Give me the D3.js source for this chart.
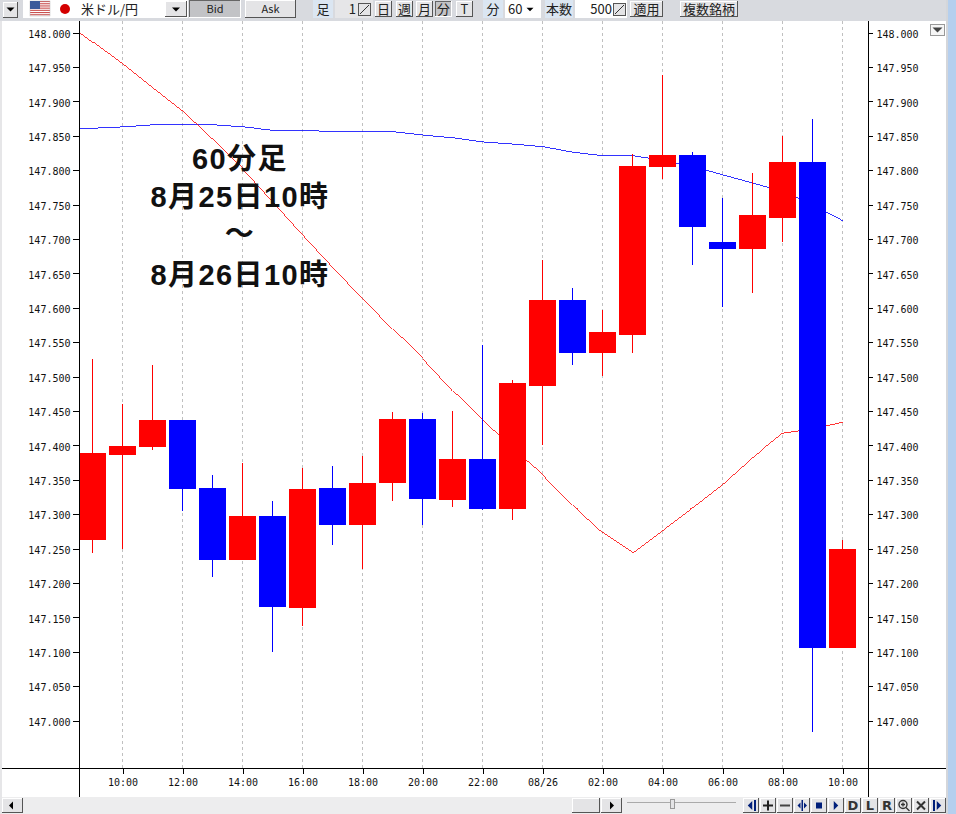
<!DOCTYPE html>
<html lang="ja">
<head>
<meta charset="utf-8">
<title>米ドル/円 60分足</title>
<script src="https://cdnjs.cloudflare.com/ajax/libs/d3/7.8.5/d3.min.js"></script>
<style>
    html, body { margin: 0; padding: 0; background: #fff; }
    svg { display: block; }
    .ui { font-family: "Noto Sans CJK JP", "Liberation Sans", sans-serif; font-size: 13px; fill: #222; }
    .axis-label { font-family: "DejaVu Sans Mono", "Liberation Mono", monospace; font-size: 10px; fill: #111; }
</style>
</head>
<body>
<div id="chart"></div>
<script>
// hourly candles, 08/25 09:00 to 08/26 10:00
const candleTimes = [
    "08-25 09", "08-25 10", "08-25 11", "08-25 12", "08-25 13", "08-25 14", "08-25 15", "08-25 16", "08-25 17",
    "08-25 18", "08-25 19", "08-25 20", "08-25 21", "08-25 22", "08-25 23", "08-26 00", "08-26 01", "08-26 02",
    "08-26 03", "08-26 04", "08-26 05", "08-26 06", "08-26 07", "08-26 08", "08-26 09", "08-26 10"
];
const bodyTop = [
    147.389, 147.399, 147.437, 147.437, 147.338, 147.298, 147.298, 147.336, 147.338,
    147.346, 147.439, 147.438, 147.380, 147.380, 147.490, 147.611, 147.611, 147.565,
    147.806, 147.822, 147.822, 147.695, 147.735, 147.812, 147.812, 147.250
];
const bodyBottom = [
    147.262, 147.386, 147.397, 147.336, 147.233, 147.233, 147.165, 147.163, 147.285,
    147.285, 147.345, 147.322, 147.320, 147.307, 147.307, 147.487, 147.535, 147.535,
    147.560, 147.805, 147.717, 147.685, 147.685, 147.730, 147.106, 147.105
];
const wickHigh = [
    147.525, 147.460, 147.517, 147.437, 147.357, 147.375, 147.319, 147.367, 147.370,
    147.384, 147.448, 147.447, 147.450, 147.546, 147.495, 147.669, 147.629, 147.597,
    147.823, 147.938, 147.826, 147.759, 147.796, 147.850, 147.874, 147.262
];
const wickLow = [
    147.244, 147.249, 147.393, 147.304, 147.208, 147.233, 147.099, 147.138, 147.255,
    147.221, 147.319, 147.284, 147.310, 147.306, 147.291, 147.400, 147.517, 147.501,
    147.534, 147.787, 147.662, 147.601, 147.621, 147.695, 146.984, 147.105
];
// 1 = red candle, 0 = blue candle
const candleIsRed = [1, 1, 1, 0, 0, 1, 0, 1, 0, 1, 1, 0, 1, 0, 1, 1, 0, 1, 1, 1, 0, 0, 1, 1, 0, 1];

// moving averages start one hour earlier so they run off the left axis
const lineTimes = ["08-25 08"].concat(candleTimes);
const redLine = [
    148.018, 147.986, 147.954, 147.919, 147.885, 147.844, 147.802, 147.754, 147.706, 147.659,
    147.613, 147.569, 147.526, 147.479, 147.436, 147.395, 147.357, 147.313, 147.273, 147.244,
    147.277, 147.310, 147.344, 147.383, 147.418, 147.424, 147.434
];
const blueLine = [
    147.861, 147.861, 147.863, 147.866, 147.866, 147.866, 147.863, 147.858, 147.858, 147.856,
    147.856, 147.856, 147.851, 147.847, 147.841, 147.838, 147.834, 147.826, 147.821, 147.821,
    147.814, 147.805, 147.793, 147.781, 147.770, 147.749, 147.726
];

const priceTicks = [
    147.000, 147.050, 147.100, 147.150, 147.200, 147.250, 147.300, 147.350, 147.400, 147.450, 147.500,
    147.550, 147.600, 147.650, 147.700, 147.750, 147.800, 147.850, 147.900, 147.950, 148.000
];
const timeTicks = [
    "08-25 10", "08-25 12", "08-25 14", "08-25 16", "08-25 18", "08-25 20", "08-25 22",
    "08-26 00", "08-26 02", "08-26 04", "08-26 06", "08-26 08", "08-26 10"
];
const noteLines = ["60分足", "8月25日10時", "〜", "8月26日10時"];

const parseTime = d3.timeParse("%Y-%m-%d %H");
const toDate = s => parseTime("2023-" + s);

const svg = d3.select("#chart")
    .append("svg")
    .attr("width", 956)
    .attr("height", 814);

const plot = { left: 79.5, right: 868.5, top: 21, bottom: 768.5 };

const x = d3.scaleTime()
    .domain([toDate("08-25 09"), toDate("08-26 10")])
    .range([92.5, 842.5]);

const y = d3.scaleLinear()
    .domain([147, 148])
    .range([720.6, 32.6]);

svg.append("defs").append("clipPath")
    .attr("id", "plot-clip")
    .append("rect")
    .attr("x", plot.left)
    .attr("y", plot.top)
    .attr("width", plot.right - plot.left)
    .attr("height", plot.bottom - plot.top);

// window frame
svg.append("rect").attr("width", 956).attr("height", 814).attr("fill", "#fff");
svg.append("rect").attr("width", 2).attr("height", 814).attr("fill", "#e6e6e8");
svg.append("rect").attr("x", 946).attr("width", 2).attr("height", 814).attr("fill", "#d4d6da");
svg.append("rect").attr("x", 948).attr("width", 8).attr("height", 814).attr("fill", "#b5cfee");

// vertical grid
svg.append("g")
    .selectAll("line")
    .data(timeTicks.map(toDate))
    .enter()
    .append("line")
    .attr("x1", d => x(d))
    .attr("x2", d => x(d))
    .attr("y1", plot.top)
    .attr("y2", plot.bottom)
    .attr("stroke", "#c0c0c0")
    .attr("stroke-dasharray", "3,3")
    .attr("shape-rendering", "crispEdges");

// moving averages
const lineGen = d3.line()
    .x((d, i) => x(toDate(lineTimes[i])))
    .y(d => y(d));

const plotArea = svg.append("g").attr("clip-path", "url(#plot-clip)");

plotArea.append("path")
    .datum(blueLine)
    .attr("d", lineGen)
    .attr("fill", "none")
    .attr("stroke", "#0000ff")
    .attr("stroke-width", 0.8)
    .attr("shape-rendering", "crispEdges");

plotArea.append("path")
    .datum(redLine)
    .attr("d", lineGen)
    .attr("fill", "none")
    .attr("stroke", "#ff0000")
    .attr("stroke-width", 0.8)
    .attr("shape-rendering", "crispEdges");

// candles
const candleColor = i => candleIsRed[i] ? "#ff0000" : "#0000ff";
const candles = plotArea.append("g")
    .selectAll("g")
    .data(candleTimes)
    .enter()
    .append("g")
    .attr("shape-rendering", "crispEdges");

candles.append("line")
    .attr("x1", d => x(toDate(d)))
    .attr("x2", d => x(toDate(d)))
    .attr("y1", (d, i) => Math.round(y(wickHigh[i])))
    .attr("y2", (d, i) => Math.round(y(wickLow[i])))
    .attr("stroke", (d, i) => candleColor(i));

candles.append("rect")
    .attr("x", d => x(toDate(d)) - 13.5)
    .attr("y", (d, i) => Math.round(y(bodyTop[i])))
    .attr("width", 27)
    .attr("height", (d, i) => Math.round(y(bodyBottom[i])) - Math.round(y(bodyTop[i])))
    .attr("fill", (d, i) => candleColor(i));

// axes
const yAxisLeft = d3.axisLeft(y).tickValues(priceTicks).tickFormat(d3.format(".3f")).tickSize(7).tickPadding(2);
const yAxisRight = d3.axisRight(y).tickValues(priceTicks).tickFormat(d3.format(".3f")).tickSize(4).tickPadding(4);
const xAxis = d3.axisBottom(x)
    .tickValues(timeTicks.map(toDate))
    .tickFormat(d => d.getHours() === 0 ? d3.timeFormat("%m/%d")(d) : d3.timeFormat("%H:%M")(d))
    .tickSize(5)
    .tickPadding(5);

const axisGroups = [
    svg.append("g").attr("transform", `translate(${plot.left},0)`).call(yAxisLeft),
    svg.append("g").attr("transform", `translate(${plot.right},0)`).call(yAxisRight),
    svg.append("g").attr("transform", `translate(0,${plot.bottom})`).call(xAxis)
];
axisGroups.forEach(g => {
    g.select(".domain").remove();
    g.attr("font-family", null).attr("font-size", null);
    g.selectAll("text").attr("class", "axis-label");
    g.selectAll("line").attr("stroke", "#000").attr("shape-rendering", "crispEdges");
});
// labels sit a little under their ticks in the reference
axisGroups[0].selectAll("text").attr("y", 1.5);
axisGroups[1].selectAll("text").attr("y", 1.5);

// axis frame lines
[[plot.left, plot.top, plot.left, 797], [plot.right, plot.top, plot.right, 797], [2, plot.bottom, 946, plot.bottom]]
    .forEach(([x1, y1, x2, y2]) => {
        svg.append("line")
            .attr("x1", x1).attr("y1", y1).attr("x2", x2).attr("y2", y2)
            .attr("stroke", "#000")
            .attr("shape-rendering", "crispEdges");
    });

// period note over the chart
svg.append("g")
    .selectAll("text")
    .data(noteLines)
    .enter()
    .append("text")
    .attr("x", 240)
    .attr("y", (d, i) => [169, 207, 244, 285][i])
    .attr("text-anchor", "middle")
    .attr("font-family", "'Liberation Sans', 'Noto Sans CJK JP', sans-serif")
    .attr("font-weight", 700)
    .attr("font-size", 29)
    .attr("letter-spacing", 1.4)
    .attr("fill", "#111")
    .text(d => d);

// toolbar
const toolbar = svg.append("g");
toolbar.append("rect").attr("width", 946).attr("height", 21).attr("fill", "#d8dadf");

function button(parent, bx, by, w, h, label, pressed, opts = {}) {
    const g = parent.append("g").attr("shape-rendering", "crispEdges");
    g.append("rect").attr("x", bx).attr("y", by).attr("width", w).attr("height", h)
        .attr("fill", pressed ? "#c2c3c6" : "#e4e4e6");
    // lit and shaded edges
    g.append("path")
        .attr("d", `M${bx + 0.5},${by + h}V${by + 0.5}H${bx + w}`)
        .attr("fill", "none").attr("stroke", pressed ? "#666" : "#fff");
    g.append("path")
        .attr("d", `M${bx + w - 0.5},${by}V${by + h - 0.5}H${bx}`)
        .attr("fill", "none").attr("stroke", pressed ? "#fff" : "#555");
    if (label) {
        parent.append("text")
            .attr("class", "ui")
            .attr("x", bx + w / 2)
            .attr("y", by + h / 2)
            .attr("dy", "0.36em")
            .attr("text-anchor", "middle")
            .style("font-size", opts.size ? opts.size + "px" : null)
            .text(label);
    }
}

function field(fx, w, fill) {
    toolbar.append("rect").attr("x", fx).attr("y", 0).attr("width", w).attr("height", 18).attr("fill", fill);
}

function uiText(tx, label, anchor = "start") {
    toolbar.append("text")
        .attr("class", "ui")
        .attr("x", tx)
        .attr("y", 9)
        .attr("dy", "0.36em")
        .attr("text-anchor", anchor)
        .text(label);
}

function downArrow(parent, cx, cy, size, fill = "#000") {
    parent.append("path")
        .attr("d", `M${cx - size},${cy - size / 2}h${size * 2}l${-size},${size}z`)
        .attr("fill", fill);
}

function spinner(sx) {
    toolbar.append("rect").attr("x", sx + 0.5).attr("y", 3.5).attr("width", 12).attr("height", 12)
        .attr("fill", "#e4e4e6").attr("stroke", "#555").attr("shape-rendering", "crispEdges");
    toolbar.append("path").attr("d", `M${sx + 2},14L${sx + 11},5`).attr("stroke", "#333").attr("fill", "none");
}

button(toolbar, 3, 2, 15, 16, "", false);
downArrow(toolbar, 10.5, 9.5, 4);

field(23, 165, "#ffffff");

// US flag
const flagStripes = d3.range(7);
toolbar.selectAll(".flag-stripe")
    .data(flagStripes)
    .enter()
    .append("rect")
    .attr("class", "flag-stripe")
    .attr("x", 30).attr("y", d => 1 + d * 2.2)
    .attr("width", 20).attr("height", 1.1)
    .attr("fill", "#c9504f");
toolbar.append("rect").attr("x", 30).attr("y", 1).attr("width", 20).attr("height", 15)
    .attr("fill", "none").attr("stroke", "#bbb").attr("stroke-width", 0.5);
toolbar.append("rect").attr("x", 30).attr("y", 1).attr("width", 10).attr("height", 8).attr("fill", "#3c5a9a");
toolbar.append("circle").attr("cx", 65).attr("cy", 9).attr("r", 5).attr("fill", "#d40000");

uiText(81, "米ドル/円");
button(toolbar, 165, 1, 22, 16, "", false);
downArrow(toolbar, 176, 9.5, 4);

button(toolbar, 189, 0, 52, 18, "Bid", true, { size: 11 });
button(toolbar, 245, 0, 51, 18, "Ask", false, { size: 11 });

field(313, 20, "#dbe6f2");
uiText(323, "足", "middle");
field(335, 38, "#e6e6e8");
uiText(356, "1", "end");
spinner(358);

button(toolbar, 375, 1, 17, 16, "日", false);
button(toolbar, 396, 1, 17, 16, "週", false);
button(toolbar, 416, 1, 17, 16, "月", false);
button(toolbar, 435, 1, 17, 16, "分", true);
button(toolbar, 456, 1, 17, 16, "T", false);

field(483, 20, "#dbe6f2");
uiText(493, "分", "middle");
field(505, 36, "#ffffff");
uiText(508, "60");
downArrow(toolbar, 530, 9.5, 3.5);
field(545, 28, "#dbe6f2");
uiText(559, "本数", "middle");
field(575, 52, "#ffffff");
uiText(612, "500", "end");
spinner(613);
button(toolbar, 630, 1, 33, 16, "適用", false);
button(toolbar, 680, 1, 58, 16, "複数銘柄", false);

// small menu button at the top right of the plot
svg.append("rect").attr("x", 930.5).attr("y", 24.5).attr("width", 14).attr("height", 11)
    .attr("fill", "#f6f6f6").attr("stroke", "#999").attr("shape-rendering", "crispEdges");
downArrow(svg, 937.5, 30, 5, "#444");

// bottom bar
const footer = svg.append("g");
footer.append("rect").attr("x", 2).attr("y", 797).attr("width", 944).attr("height", 17).attr("fill", "#ededee");

function leftArrow(cx, cy, size, fill = "#000") {
    footer.append("path").attr("d", `M${cx + size / 2},${cy - size}v${size * 2}l${-size},${-size}z`).attr("fill", fill);
}
function rightArrow(cx, cy, size, fill = "#000") {
    footer.append("path").attr("d", `M${cx - size / 2},${cy - size}v${size * 2}l${size},${-size}z`).attr("fill", fill);
}

button(footer, 2, 798, 21, 15, "", false);
leftArrow(11, 805.5, 4);
button(footer, 572, 798, 28, 15, "", false);
button(footer, 601, 798, 21, 15, "", false);
rightArrow(612, 805.5, 4);

// zoom slider
footer.append("line").attr("x1", 627).attr("x2", 736).attr("y1", 802.5).attr("y2", 802.5)
    .attr("stroke", "#aaa").attr("shape-rendering", "crispEdges");
footer.append("rect").attr("x", 670).attr("y", 799).attr("width", 4).attr("height", 9)
    .attr("fill", "#e4e4e6").attr("stroke", "#999").attr("shape-rendering", "crispEdges");

// navigation buttons: text ones use a letter, the others are small drawn icons
const navBlue = "#001f7a";
const navIcons = [
    cx => { leftArrow(cx - 1, 805.5, 4.5, navBlue); footer.append("rect").attr("x", cx + 3).attr("y", 800).attr("width", 2).attr("height", 11).attr("fill", navBlue); },
    cx => { footer.append("path").attr("d", `M${cx - 5},805.5h10M${cx},800.5v10`).attr("stroke", "#222").attr("stroke-width", 2); },
    cx => { footer.append("path").attr("d", `M${cx - 5},805.5h10`).attr("stroke", "#444").attr("stroke-width", 2); },
    cx => {
        footer.append("rect").attr("x", cx - 0.5).attr("y", 800).attr("width", 1.5).attr("height", 11).attr("fill", navBlue);
        leftArrow(cx - 3, 805.5, 3, navBlue);
        rightArrow(cx + 3.5, 805.5, 3, navBlue);
    },
    cx => { footer.append("rect").attr("x", cx - 3).attr("y", 802.5).attr("width", 6).attr("height", 6).attr("fill", navBlue); },
    cx => { rightArrow(cx, 805.5, 4.5, navBlue); },
    null, null, null,
    cx => {
        footer.append("circle").attr("cx", cx - 1).attr("cy", 804.5).attr("r", 4).attr("fill", "none").attr("stroke", "#333").attr("stroke-width", 1.4);
        footer.append("path").attr("d", `M${cx + 2},807.5l3.5,3.5M${cx - 3},804.5h4M${cx - 1},802.5v4`).attr("stroke", "#333").attr("stroke-width", 1.3);
    },
    cx => { footer.append("path").attr("d", `M${cx - 4},801.5l8,8M${cx + 4},801.5l-8,8`).attr("stroke", "#333").attr("stroke-width", 2); },
    cx => { footer.append("rect").attr("x", cx - 5).attr("y", 800).attr("width", 2).attr("height", 11).attr("fill", navBlue); rightArrow(cx + 1, 805.5, 4.5, navBlue); }
];
const navLetters = { 6: "D", 7: "L", 8: "R" };

navIcons.forEach((icon, i) => {
    const bx = 743 + i * 17;
    button(footer, bx, 798, 16, 15, "", false);
    if (icon) icon(bx + 8);
    else {
        footer.append("text")
            .attr("x", bx + 8)
            .attr("y", 805.5)
            .attr("dy", "0.36em")
            .attr("text-anchor", "middle")
            .attr("font-family", "'DejaVu Sans', sans-serif")
            .attr("font-weight", 700)
            .attr("font-size", 13)
            .attr("fill", "#333")
            .text(navLetters[i]);
    }
});
</script>
</body>
</html>
